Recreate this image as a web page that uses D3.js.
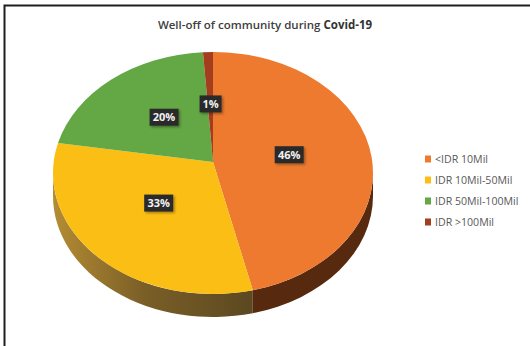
<!DOCTYPE html>
<html lang="en">
<head>
<meta charset="UTF-8">
<title>Well-off pie</title>
<script src="https://d3js.org/d3.v7.min.js"></script>
<style>
  * { margin: 0; padding: 0 }
  body { background: #fff; }
</style>
</head>
<body>
<script>
  const categories = ['<IDR 10Mil', 'IDR 10Mil-50Mil', 'IDR 50Mil-100Mil', 'IDR >100Mil'];
  const values = [46, 33, 20, 1];
  const labels = ['46%', '33%', '20%', '1%'];
  const topColors = ['#ED7A2F', '#FBBE14', '#63A844', '#A43D1D'];
  const sideColors = ['#57290F', 'url(#side-yellow)', '#3A5A25', '#52200F'];

  const W = 530, H = 346;
  const cx = 213, cy = 173, rx = 160, ry = 121, depth = 23;
  const apex = [213, 162];

  const svg = d3.select('body').append('svg')
    .attr('width', W).attr('height', H)
    .style('font-family', 'Open Sans, sans-serif');

  const defs = svg.append('defs');
  const g1 = defs.append('linearGradient').attr('id', 'side-yellow')
    .attr('gradientUnits', 'userSpaceOnUse')
    .attr('x1', cx - rx).attr('x2', 258).attr('y1', 0).attr('y2', 0);
  g1.append('stop').attr('offset', '0%').style('stop-color', '#B48C33');
  g1.append('stop').attr('offset', '45%').style('stop-color', '#7A5E27');
  g1.append('stop').attr('offset', '100%').style('stop-color', '#5A4720');

  const shadow = defs.append('filter').attr('id', 'lblshadow')
    .attr('x', '-30%').attr('y', '-30%').attr('width', '160%').attr('height', '160%');
  shadow.append('feDropShadow').attr('dx', 1.5).attr('dy', 1.5).attr('stdDeviation', 1)
    .attr('flood-color', '#000').attr('flood-opacity', 0.35);

  // frame
  svg.append('path')
    .attr('d', `M${W},5.5 L4.5,5.5 L4.5,${H}`)
    .attr('fill', 'none').attr('stroke', '#1e1e1e').attr('stroke-width', 2);

  // title
  const title = svg.append('text').attr('x', 265).attr('y', 29)
    .attr('text-anchor', 'middle').attr('font-size', 11.5).attr('fill', '#404040');
  title.append('tspan').attr('font-weight', 600).text('Well-off of community during ');
  title.append('tspan').attr('font-weight', 700).attr('fill', '#333').text('Covid-19');

  const pie = d3.pie().sort(null).value(d => d)(values);

  const rim = (a, dy = 0) => [cx + rx * Math.sin(a), cy - ry * Math.cos(a) + dy];

  // side walls (lower half only)
  pie.forEach((d, i) => {
    const a0 = Math.max(d.startAngle, Math.PI / 2);
    const a1 = Math.min(d.endAngle, Math.PI * 1.5);
    if (a1 <= a0) return;
    const p0 = rim(a0), p1 = rim(a1), q1 = rim(a1, depth), q0 = rim(a0, depth);
    const large = (a1 - a0) > Math.PI ? 1 : 0;
    const path = `M${p0} A${rx},${ry} 0 ${large} 1 ${p1} L${q1} A${rx},${ry} 0 ${large} 0 ${q0} Z`;
    svg.append('path').attr('d', path).attr('fill', sideColors[i]);
  });

  // top face
  pie.forEach((d, i) => {
    const p0 = rim(d.startAngle), p1 = rim(d.endAngle);
    const large = (d.endAngle - d.startAngle) > Math.PI ? 1 : 0;
    const path = `M${apex} L${p0} A${rx},${ry} 0 ${large} 1 ${p1} Z`;
    svg.append('path').attr('d', path).attr('fill', topColors[i]);
  });

  // data labels
  pie.forEach((d, i) => {
    const a = (d.startAngle + d.endAngle) / 2;
    const k = 0.48;
    const x = apex[0] + rx * k * Math.sin(a);
    const y = apex[1] - ry * k * Math.cos(a);
    const w = labels[i].length * 7 + 8, h = 17;
    const lg = svg.append('g').attr('transform', `translate(${x},${y})`);
    lg.append('rect').attr('x', -w / 2).attr('y', -h / 2).attr('width', w).attr('height', h)
      .attr('fill', '#2B2B2B').attr('filter', 'url(#lblshadow)');
    lg.append('text').attr('text-anchor', 'middle').attr('dy', '0.36em')
      .attr('font-size', 11).attr('font-weight', 700).attr('fill', '#F2F2F2').text(labels[i]);
  });

  // legend
  const ly = d3.scalePoint().domain(categories).range([159, 222]);
  const leg = svg.append('g');
  categories.forEach((c, i) => {
    leg.append('rect').attr('x', 425).attr('y', ly(c) - 3.5).attr('width', 6).attr('height', 7)
      .attr('fill', topColors[i]);
    leg.append('text').attr('x', 435).attr('y', ly(c)).attr('dy', '0.35em')
      .attr('font-size', 10.6).attr('fill', '#595959').text(c);
  });
</script>
</body>
</html>
